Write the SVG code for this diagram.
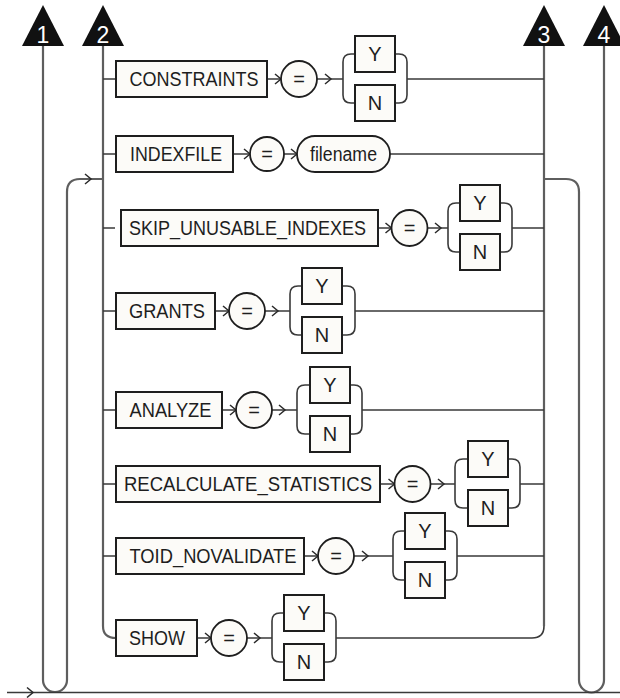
<svg xmlns="http://www.w3.org/2000/svg" xmlns:xlink="http://www.w3.org/1999/xlink" width="620" height="698" viewBox="0 0 620 698">
<style>
.bg{fill:#ffffff}
.rail{fill:none;stroke:#5e5e5e;stroke-width:2.2}
.ln{fill:none;stroke:#3a3a3a;stroke-width:1.6}
.chev{fill:none;stroke:#2a2a2a;stroke-width:1.5}
.box{fill:#fcfbf8;stroke:#1e1e1e;stroke-width:2}
.oval{fill:#fcfbf8;stroke:#1e1e1e;stroke-width:1.8}
.tri{fill:#111111}
.t{font-family:"Liberation Sans",Arial,sans-serif;font-size:20px;fill:#1e1e1e;text-anchor:middle}
.n{font-family:"Liberation Sans",Arial,sans-serif;font-size:23px;fill:#ffffff;text-anchor:middle}
</style>
<defs>
<path id="chev" class="chev" d="M-6,-5 L0,0 L-6,5"/>
</defs>
<rect class="bg" x="0" y="0" width="620" height="698"/>

<g id="connectors">
  <path class="rail" d="M43,46 V680 A12,12 0 0 0 67,680 V192 Q67,179 80,179 H103"/>
  <path class="rail" d="M103,46 V626 Q103,638 116,638"/>
  <path class="rail" d="M544,46 V626"/>
  <path class="rail" d="M544,179 H566 Q579,179 579,192 V680 A12.5,12.5 0 0 0 604,680 V46"/>
  <path class="ln" d="M7,692.5 H620"/>
  <use href="#chev" x="33" y="692.5"/>
  <use href="#chev" x="91" y="179"/>

  <path class="ln" d="M103,79 H116 M267,79 H281 M317,79 H343 M407,79 H544"/>
  <use href="#chev" x="281" y="79"/>
  <use href="#chev" x="331" y="79"/>
  <path class="ln" d="M355,54 H351 Q343,54 343,62 V95 Q343,103 351,103 H355 M395,54 H399 Q407,54 407,62 V95 Q407,103 399,103 H395"/>

  <path class="ln" d="M103,154 H116 M233,154 H250 M284,154 H297 M390,154 H544"/>
  <use href="#chev" x="250" y="154"/>
  <use href="#chev" x="297" y="154"/>

  <path class="ln" d="M103,228 H115 M378,228 H391.5 M427.5,228 H448 M512,228 H544"/>
  <use href="#chev" x="391.5" y="228"/>
  <use href="#chev" x="441" y="228"/>
  <path class="ln" d="M460,203 H456 Q448,203 448,211 V244 Q448,252 456,252 H460 M500,203 H504 Q512,203 512,211 V244 Q512,252 504,252 H500"/>

  <path class="ln" d="M103,311 H116 M215,311 H229 M265,311 H290 M355,311 H544"/>
  <use href="#chev" x="229" y="311"/>
  <use href="#chev" x="278" y="311"/>
  <path class="ln" d="M302,286 H298 Q290,286 290,294 V327 Q290,335 298,335 H302 M342,286 H347 Q355,286 355,294 V327 Q355,335 347,335 H342"/>

  <path class="ln" d="M103,410 H116 M222,410 H236 M272,410 H297 M362,410 H544"/>
  <use href="#chev" x="236" y="410"/>
  <use href="#chev" x="285" y="410"/>
  <path class="ln" d="M310,385 H305 Q297,385 297,393 V426 Q297,434 305,434 H310 M350,385 H354 Q362,385 362,393 V426 Q362,434 354,434 H350"/>

  <path class="ln" d="M103,484 H116 M380,484 H394.5 M430.5,484 H455 M520,484 H544"/>
  <use href="#chev" x="394.5" y="484"/>
  <use href="#chev" x="444" y="484"/>
  <path class="ln" d="M468,459 H463 Q455,459 455,467 V500 Q455,508 463,508 H468 M508,459 H512 Q520,459 520,467 V500 Q520,508 512,508 H508"/>

  <path class="ln" d="M103,556 H116 M304,556 H318 M354,556 H393 M457,556 H544"/>
  <use href="#chev" x="318" y="556"/>
  <use href="#chev" x="368" y="556"/>
  <path class="ln" d="M405,531 H401 Q393,531 393,539 V572 Q393,580 401,580 H405 M445,531 H449 Q457,531 457,539 V572 Q457,580 449,580 H445"/>

  <path class="ln" d="M197,638 H211 M247,638 H272 M336,638 H532 Q544,638 544,626"/>
  <use href="#chev" x="211" y="638"/>
  <use href="#chev" x="260" y="638"/>
  <path class="ln" d="M284,613 H280 Q272,613 272,621 V654 Q272,662 280,662 H284 M324,613 H328 Q336,613 336,621 V654 Q336,662 328,662 H324"/>
</g>

<g id="marker1"><polygon class="tri" points="43,5 22,46 64,46"/><text class="n" x="43" y="43">1</text></g>
<g id="marker2"><polygon class="tri" points="103,5 82,46 124,46"/><text class="n" x="103" y="43">2</text></g>
<g id="marker3"><polygon class="tri" points="544,5 523,46 565,46"/><text class="n" x="544" y="43">3</text></g>
<g id="marker4"><polygon class="tri" points="604,5 583,46 625,46"/><text class="n" x="604" y="43">4</text></g>

<g id="constraints"><rect class="box" x="116" y="61" width="151" height="36"/><text class="t" x="194" y="86" textLength="129" lengthAdjust="spacingAndGlyphs">CONSTRAINTS</text></g>
<g id="constraints-eq"><circle class="oval" cx="299" cy="79" r="18"/><text class="t" x="299" y="86">=</text></g>
<g id="constraints-y"><rect class="box" x="355" y="36" width="40" height="36"/><text class="t" x="375" y="61">Y</text></g>
<g id="constraints-n"><rect class="box" x="355" y="85" width="40" height="36"/><text class="t" x="375" y="110">N</text></g>

<g id="indexfile"><rect class="box" x="116" y="136" width="117" height="36"/><text class="t" x="176" y="161" textLength="92" lengthAdjust="spacingAndGlyphs">INDEXFILE</text></g>
<g id="indexfile-eq"><circle class="oval" cx="267" cy="154" r="17"/><text class="t" x="267" y="161">=</text></g>
<g id="filename"><rect class="oval" x="297" y="136" width="93" height="36" rx="18" ry="18"/><text class="t" x="343.5" y="161" textLength="67" lengthAdjust="spacingAndGlyphs">filename</text></g>

<g id="skip"><rect class="box" x="121" y="210" width="257" height="36"/><text class="t" x="247.5" y="235" textLength="237" lengthAdjust="spacingAndGlyphs">SKIP_UNUSABLE_INDEXES</text></g>
<g id="skip-eq"><circle class="oval" cx="409.5" cy="228" r="18"/><text class="t" x="409.5" y="235">=</text></g>
<g id="skip-y"><rect class="box" x="460" y="185" width="40" height="36"/><text class="t" x="480" y="210">Y</text></g>
<g id="skip-n"><rect class="box" x="460" y="234" width="40" height="36"/><text class="t" x="480" y="259">N</text></g>

<g id="grants"><rect class="box" x="116" y="293" width="99" height="36"/><text class="t" x="167" y="318" textLength="76" lengthAdjust="spacingAndGlyphs">GRANTS</text></g>
<g id="grants-eq"><circle class="oval" cx="247" cy="311" r="18"/><text class="t" x="247" y="318">=</text></g>
<g id="grants-y"><rect class="box" x="302" y="268" width="40" height="36"/><text class="t" x="322" y="293">Y</text></g>
<g id="grants-n"><rect class="box" x="302" y="317" width="40" height="36"/><text class="t" x="322" y="342">N</text></g>

<g id="analyze"><rect class="box" x="116" y="392" width="106" height="36"/><text class="t" x="170.5" y="417" textLength="82" lengthAdjust="spacingAndGlyphs">ANALYZE</text></g>
<g id="analyze-eq"><circle class="oval" cx="254" cy="410" r="18"/><text class="t" x="254" y="417">=</text></g>
<g id="analyze-y"><rect class="box" x="310" y="367" width="40" height="36"/><text class="t" x="330" y="392">Y</text></g>
<g id="analyze-n"><rect class="box" x="310" y="416" width="40" height="36"/><text class="t" x="330" y="441">N</text></g>

<g id="recalc"><rect class="box" x="116" y="466" width="264" height="36"/><text class="t" x="248" y="491" textLength="248" lengthAdjust="spacingAndGlyphs">RECALCULATE_STATISTICS</text></g>
<g id="recalc-eq"><circle class="oval" cx="412.5" cy="484" r="18"/><text class="t" x="412.5" y="491">=</text></g>
<g id="recalc-y"><rect class="box" x="468" y="441" width="40" height="36"/><text class="t" x="488" y="466">Y</text></g>
<g id="recalc-n"><rect class="box" x="468" y="490" width="40" height="36"/><text class="t" x="488" y="515">N</text></g>

<g id="toid"><rect class="box" x="116" y="538" width="188" height="36"/><text class="t" x="213" y="563" textLength="167" lengthAdjust="spacingAndGlyphs">TOID_NOVALIDATE</text></g>
<g id="toid-eq"><circle class="oval" cx="336" cy="556" r="18"/><text class="t" x="336" y="563">=</text></g>
<g id="toid-y"><rect class="box" x="405" y="513" width="40" height="36"/><text class="t" x="425" y="538">Y</text></g>
<g id="toid-n"><rect class="box" x="405" y="562" width="40" height="36"/><text class="t" x="425" y="587">N</text></g>

<g id="show"><rect class="box" x="116" y="620" width="81" height="36"/><text class="t" x="157" y="645" textLength="56" lengthAdjust="spacingAndGlyphs">SHOW</text></g>
<g id="show-eq"><circle class="oval" cx="229" cy="638" r="18"/><text class="t" x="229" y="645">=</text></g>
<g id="show-y"><rect class="box" x="284" y="595" width="40" height="36"/><text class="t" x="304" y="620">Y</text></g>
<g id="show-n"><rect class="box" x="284" y="644" width="40" height="36"/><text class="t" x="304" y="669">N</text></g>
</svg>
